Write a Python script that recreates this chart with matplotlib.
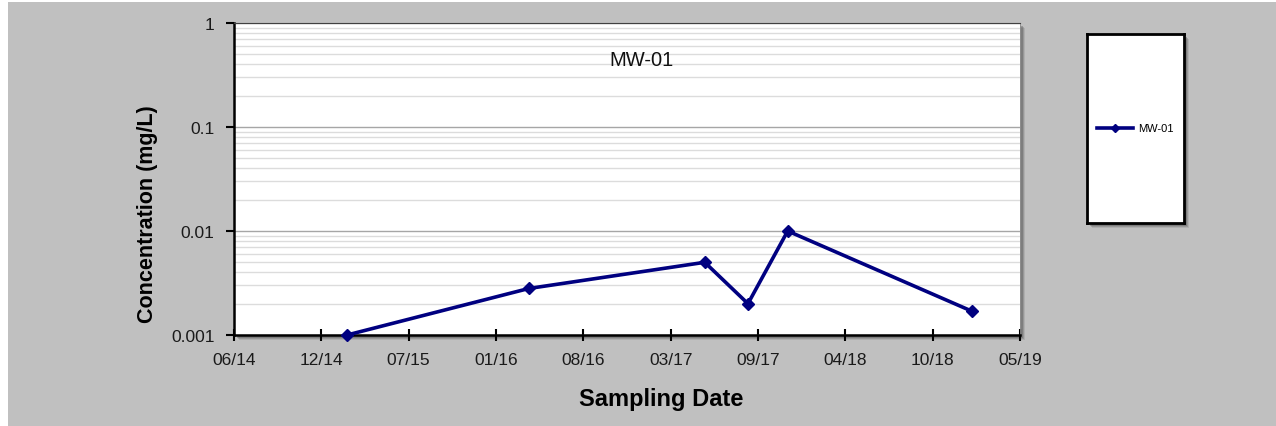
import datetime as dt
import matplotlib
matplotlib.use("Agg")
import matplotlib.pyplot as plt
import matplotlib.dates as mdates
from matplotlib.patches import Rectangle
from matplotlib.ticker import LogLocator, NullFormatter, FixedFormatter

# data
well = "MW-01"
sample_dates = ["2015-02-24", "2016-04-15", "2017-05-23", "2017-08-30", "2017-11-29", "2019-01-24"]
concentration = [0.001, 0.0028, 0.005, 0.002, 0.01, 0.0017]
y_ticks = [0.001, 0.01, 0.1, 1]
y_labels = ["0.001", "0.01", "0.1", "1"]
axis_start = "2014-06-10"
axis_step_days = 200
axis_steps = 9

W, H = 1276, 427
fig = plt.figure(figsize=(W / 100, H / 100), dpi=100)
fig.patch.set_facecolor("white")

def px(x0, y0, x1, y1):
    # pixel box (top-left origin) -> figure fraction rect
    return [x0 / W, 1 - y1 / H, (x1 - x0) / W, (y1 - y0) / H]

# grey chart area
fig.patches.append(Rectangle((8 / W, 0), 1, 1 - 3 / H, transform=fig.transFigure,
                             facecolor="#c0c0c0", edgecolor="none", zorder=-10))

# shadows
for (x0, y0, x1, y1) in [(234, 24, 1020, 336), (1087, 35, 1184, 224)]:
    for k, a in [(5, 0.15), (4, 0.25), (3, 0.35)]:
        r = px(x0 + k, y0 + k, x1 + k, y1 + k)
        fig.patches.append(Rectangle((r[0], r[1]), r[2], r[3], transform=fig.transFigure,
                                     facecolor="#505050", edgecolor="none", alpha=a, zorder=-5))

ax = fig.add_axes(px(234, 24, 1020, 336))
ax.set_facecolor("white")

dates = [dt.datetime.strptime(d, "%Y-%m-%d") for d in sample_dates]
start = dt.datetime.strptime(axis_start, "%Y-%m-%d")
xticks = [start + dt.timedelta(days=axis_step_days * k) for k in range(axis_steps + 1)]

line, = ax.plot(dates, concentration, color="#000080", linewidth=2.6,
                marker="D", markersize=6.5, label=well, zorder=5, clip_on=False)

ax.set_yscale("log")
ax.set_ylim(y_ticks[0], y_ticks[-1])
ax.set_xlim(xticks[0], xticks[-1])
ax.set_yticks(y_ticks)
ax.yaxis.set_major_formatter(FixedFormatter(y_labels))
ax.yaxis.set_minor_locator(LogLocator(base=10, subs=range(2, 10)))
ax.yaxis.set_minor_formatter(NullFormatter())
ax.set_xticks(xticks)
ax.xaxis.set_major_formatter(mdates.DateFormatter("%m/%y"))

ax.grid(True, which="major", axis="y", color="#a6a6a6", linewidth=1.0)
ax.grid(True, which="minor", axis="y", color="#dcdcdc", linewidth=1.0)
ax.set_axisbelow(True)

for s in ["left", "bottom"]:
    ax.spines[s].set_linewidth(1.8)
    ax.spines[s].set_color("black")
ax.spines["top"].set_linewidth(0.8)
ax.spines["top"].set_color("#404040")
ax.spines["right"].set_linewidth(0.6)
ax.spines["right"].set_color("#909090")

ax.tick_params(axis="y", which="major", direction="out", length=6, width=1.5, pad=8)
ax.tick_params(axis="y", which="minor", length=0)
ax.tick_params(axis="x", which="major", direction="inout", length=9, width=1.5, pad=8)
for lab in ax.get_xticklabels() + ax.get_yticklabels():
    lab.set_fontfamily("Liberation Sans")
    lab.set_fontsize(12.5)
    lab.set_color("#1a1a1a")

ax.text((641 - 234) / 786, (336 - 61) / 312, well, transform=ax.transAxes,
        ha="center", va="center", fontsize=14.5, family="Liberation Sans", color="#111111")

fig.text(661 / W, 1 - 400 / H, "Sampling Date", ha="center", va="center",
         fontsize=17, fontweight="bold", family="Liberation Sans")
fig.text(147 / W, 1 - 214 / H, "Concentration (mg/L)", ha="center", va="center",
         rotation=90, fontsize=15.5, fontweight="bold", family="Liberation Sans")

# legend box
lax = fig.add_axes(px(1087, 35, 1184, 224))
lax.set_facecolor("white")
lax.set_xticks([])
lax.set_yticks([])
for s in lax.spines.values():
    s.set_linewidth(2)
    s.set_color("black")
lax.legend([line], [well], loc="center", frameon=False, handlelength=3.2,
           handletextpad=0.5, markerscale=0.65, prop={"family": "Liberation Sans", "size": 8})

fig.savefig("out.png", dpi=100)
